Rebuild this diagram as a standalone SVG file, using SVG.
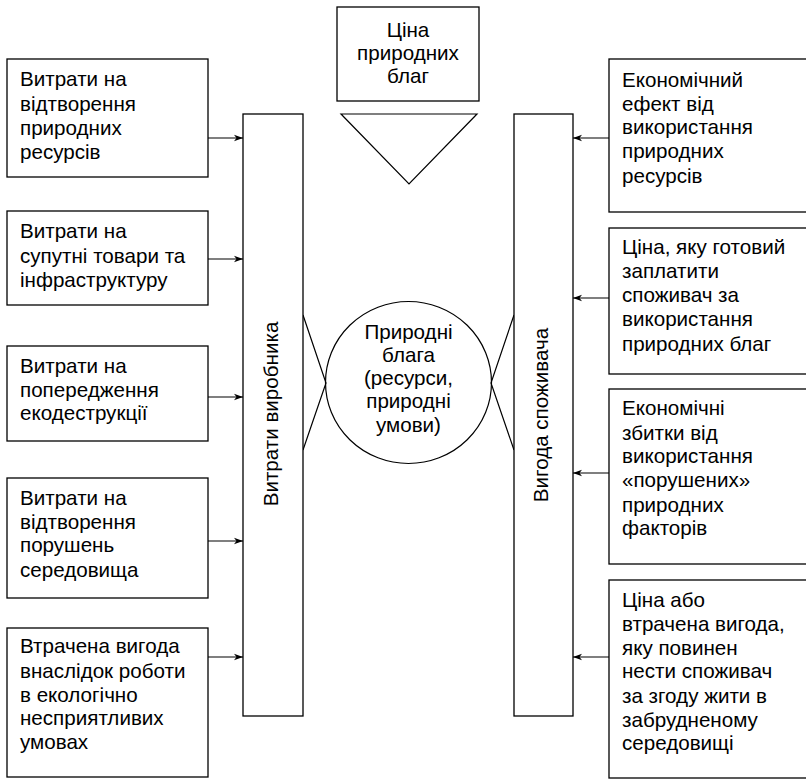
<svg xmlns="http://www.w3.org/2000/svg" width="806" height="779" viewBox="0 0 806 779">
<defs>
<marker id="arr" markerWidth="10" markerHeight="8" refX="9" refY="4" orient="auto" markerUnits="userSpaceOnUse">
<path d="M0,0.8 L9,4 L0,7.2 L2.5,4 Z" fill="#000"/>
</marker>
</defs>
<style>
.box{fill:#fff;stroke:#000;stroke-width:1.3}
.ln{fill:none;stroke:#000;stroke-width:1.2}
text{font-family:"Liberation Sans",Arial,sans-serif;font-size:20.6px;fill:#000}
.c{text-anchor:middle}
</style>
<rect width="806" height="779" fill="#fff"/>
<g id="connectors">
<line class="ln" x1="208" y1="138" x2="243" y2="138" marker-end="url(#arr)"/>
<line class="ln" x1="208" y1="259" x2="243" y2="259" marker-end="url(#arr)"/>
<line class="ln" x1="208" y1="397" x2="243" y2="397" marker-end="url(#arr)"/>
<line class="ln" x1="208" y1="541" x2="243" y2="541" marker-end="url(#arr)"/>
<line class="ln" x1="208" y1="657" x2="243" y2="657" marker-end="url(#arr)"/>
<line class="ln" x1="609" y1="138" x2="573" y2="138" marker-end="url(#arr)"/>
<line class="ln" x1="609" y1="298" x2="573" y2="298" marker-end="url(#arr)"/>
<line class="ln" x1="609" y1="473" x2="573" y2="473" marker-end="url(#arr)"/>
<line class="ln" x1="609" y1="657" x2="573" y2="657" marker-end="url(#arr)"/>
<polyline class="ln" points="303,315 326,383 303,450"/>
<polyline class="ln" points="514,315 491,383 514,450"/>
</g>
<g id="price">
<rect class="box" x="337" y="7" width="142" height="94"/>
<text class="c" x="408" y="37">Ціна</text>
<text class="c" x="408" y="60">природних</text>
<text class="c" x="408" y="83">благ</text>
</g>
<g id="triangle">
<polygon class="ln" points="341,114 477,114 409,184"/>
</g>
<g id="goods">
<ellipse class="ln" cx="408.5" cy="382.5" rx="83" ry="81"/>
<text class="c" x="408.5" y="339">Природні</text>
<text class="c" x="408.5" y="362">блага</text>
<text class="c" x="408.5" y="385">(ресурси,</text>
<text class="c" x="408.5" y="408">природні</text>
<text class="c" x="408.5" y="432">умови)</text>
</g>
<g id="producer">
<rect class="box" x="243" y="114" width="60" height="602"/>
<text class="c" transform="translate(277.5,414) rotate(-90)">Витрати виробника</text>
</g>
<g id="consumer">
<rect class="box" x="514" y="114" width="59" height="602"/>
<text class="c" transform="translate(547.5,415) rotate(-90)">Вигода споживача</text>
</g>
<g id="l1">
<rect class="box" x="7" y="59" width="201" height="118"/>
<text x="20" y="86">Витрати на</text>
<text x="20" y="111">відтворення</text>
<text x="20" y="135">природних</text>
<text x="20" y="159">ресурсів</text>
</g>
<g id="l2">
<rect class="box" x="7" y="211" width="201" height="94"/>
<text x="20" y="238">Витрати на</text>
<text x="20" y="263">супутні товари та</text>
<text x="20" y="287">інфраструктуру</text>
</g>
<g id="l3">
<rect class="box" x="7" y="346" width="201" height="95"/>
<text x="20" y="373">Витрати на</text>
<text x="20" y="397">попередження</text>
<text x="20" y="420">екодеструкції</text>
</g>
<g id="l4">
<rect class="box" x="7" y="478" width="201" height="120"/>
<text x="20" y="505">Витрати на</text>
<text x="20" y="529">відтворення</text>
<text x="20" y="552">порушень</text>
<text x="20" y="577">середовища</text>
</g>
<g id="l5">
<rect class="box" x="7" y="628" width="201" height="149"/>
<text x="20" y="653">Втрачена вигода</text>
<text x="20" y="678">внаслідок роботи</text>
<text x="20" y="702">в екологічно</text>
<text x="20" y="725">несприятливих</text>
<text x="20" y="749">умовах</text>
</g>
<g id="r1">
<rect class="box" x="609" y="59" width="205" height="153"/>
<text x="622" y="87">Економічний</text>
<text x="622" y="111">ефект від</text>
<text x="622" y="134">використання</text>
<text x="622" y="158">природних</text>
<text x="622" y="183">ресурсів</text>
</g>
<g id="r2">
<rect class="box" x="609" y="228" width="205" height="146"/>
<text x="622" y="254">Ціна, яку готовий</text>
<text x="622" y="278">заплатити</text>
<text x="622" y="302">споживач за</text>
<text x="622" y="326">використання</text>
<text x="622" y="351">природних благ</text>
</g>
<g id="r3">
<rect class="box" x="609" y="389" width="205" height="175"/>
<text x="622" y="415">Економічні</text>
<text x="622" y="440">збитки від</text>
<text x="622" y="463">використання</text>
<text x="622" y="487">«порушених»</text>
<text x="622" y="512">природних</text>
<text x="622" y="535">факторів</text>
</g>
<g id="r4">
<rect class="box" x="609" y="580" width="205" height="198"/>
<text x="622" y="607">Ціна або</text>
<text x="622" y="631">втрачена вигода,</text>
<text x="622" y="655">яку повинен</text>
<text x="622" y="678">нести споживач</text>
<text x="622" y="703">за згоду жити в</text>
<text x="622" y="727">забрудненому</text>
<text x="622" y="750">середовищі</text>
</g>
</svg>
